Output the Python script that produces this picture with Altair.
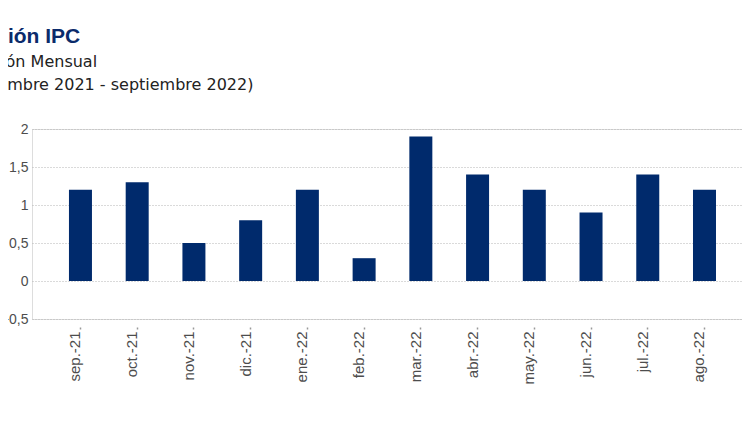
import altair as alt
import pandas as pd

meses = ["sep.-21", "oct.-21", "nov.-21", "dic.-21", "ene.-22", "feb.-22",
         "mar.-22", "abr.-22", "may.-22", "jun.-22", "jul.-22", "ago.-22"]
valores = [1.2, 1.3, 0.5, 0.8, 1.2, 0.3, 1.9, 1.4, 1.2, 0.9, 1.4, 1.2]
y_ticks = [-0.5, 0, 0.5, 1, 1.5, 2]

titulo = "Variación IPC"
subtitulo = ["Variación Mensual", "(septiembre 2021 - septiembre 2022)"]

df = pd.DataFrame({"mes": meses, "valor": valores})
df_texto = pd.DataFrame({"k": [0]})

bars = alt.Chart(df).mark_bar(color="#002a6c").encode(
    x=alt.X(
        "mes:N", sort=meses,
        scale=alt.Scale(paddingInner=0.5946, paddingOuter=0.555, align=0.587, round=False),
        axis=alt.Axis(
            title=None, labelAngle=-90, labelAlign="right", labelBaseline="alphabetic",
            labelFont="Liberation Sans Narrow, Liberation Sans, sans-serif",
            labelFontSize=15, labelColor="#4d4d4d", labelPadding=2,
            domain=False, ticks=True, tickSize=2, tickWidth=1.5, tickColor="#999999",
            offset=8, grid=False,
        ),
    ),
    y=alt.Y(
        "valor:Q",
        scale=alt.Scale(domain=[-0.5, 2], nice=False, zero=False),
        axis=alt.Axis(
            title=None, values=y_ticks,
            labelExpr="replace(format(datum.value, '~g'), '.', ',')",
            labelFont="Liberation Sans", labelFontSize=14, labelColor="#4d4d4d",
            labelPadding=4, domain=False, ticks=False,
            grid=True, gridColor="#b5b5b5", gridDash=[1, 2], gridWidth=1,
        ),
    ),
)

titulo_mark = alt.Chart(df_texto).mark_text(
    align="left", baseline="alphabetic", font="Liberation Sans", fontSize=21,
    fontWeight="bold", color="#0b2b6b",
).encode(text=alt.value(titulo), x=alt.value(-86), y=alt.value(-86))

subtitulo_mark = alt.Chart(df_texto).mark_text(
    align="left", baseline="alphabetic", font="DejaVu Sans", fontSize=16,
    color="#222222", lineHeight=23,
).encode(text=alt.value(subtitulo), x=alt.value(-80), y=alt.value(-62))

chart = alt.layer(bars, titulo_mark, subtitulo_mark).properties(
    width=710,
    height=190,
    padding={"left": 24, "top": 121, "right": 0, "bottom": 95},
    autosize=alt.AutoSizeParams(type="none"),
).configure_view(stroke=None).configure(background="white")

chart.save("out.html", embed_options={"renderer": "svg", "actions": False})
